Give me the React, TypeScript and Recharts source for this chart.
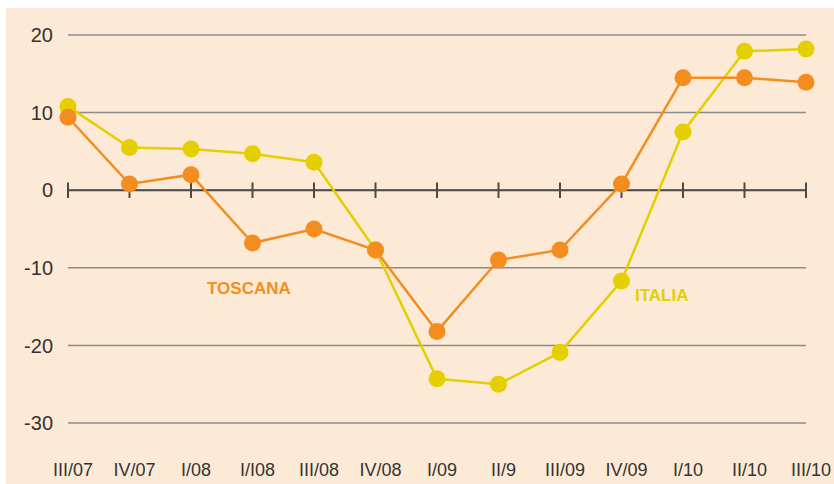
import React from 'react';
import { LineChart, Line, XAxis, YAxis, CartesianGrid, ReferenceLine } from 'recharts';

const quarters = ['III/07', 'IV/07', 'I/08', 'I/I08', 'III/08', 'IV/08', 'I/09', 'II/9', 'III/09', 'IV/09', 'I/10', 'II/10', 'III/10'];
const toscana = [9.4, 0.8, 2.0, -6.8, -5.0, -7.7, -18.2, -9.0, -7.7, 0.8, 14.5, 14.5, 13.9];
const italia = [10.8, 5.5, 5.3, 4.7, 3.6, -7.7, -24.3, -25.0, -20.9, -11.7, 7.5, 17.9, 18.2];
const yTicks = [-30, -20, -10, 0, 10, 20];

const ORANGE = '#F38D20';
const YELLOW = '#E5CF00';
const BG = '#FDEAD6';
const FONT = '"Liberation Sans", Arial, sans-serif';

const data = quarters.map((q, i) => ({ q, toscana: toscana[i], italia: italia[i] }));

const XTick = (props: any) => {
  const { x, y, payload } = props;
  return (
    <text x={x + 5} y={y + 45} textAnchor="middle" fontSize={18} fontFamily={FONT} fill="#333">
      {payload.value}
    </text>
  );
};

export default function App() {
  return (
    <div style={{ position: 'absolute', left: 6, top: 8, width: 828, height: 476, background: BG }}>
      <LineChart width={828} height={476} data={data} margin={{ top: 27, right: 28, bottom: 0, left: 0 }}>
        <CartesianGrid vertical={false} stroke="#8c8c8c" strokeWidth={1.5} />
        <XAxis dataKey="q" axisLine={false} tickLine={false} height={61} tick={<XTick />} interval={0} />
        <YAxis
          domain={[-30, 20]}
          ticks={yTicks}
          axisLine={false}
          tickLine={false}
          width={62}
          tickMargin={9}
          tick={{ fontSize: 20, fontFamily: FONT, fill: '#333' }}
        />
        <ReferenceLine y={0} stroke="#4a4a4a" strokeWidth={2} />
        {quarters.map((q) => (
          <ReferenceLine key={q} segment={[{ x: q, y: -1 }, { x: q, y: 1 }]} stroke="#4a4a4a" strokeWidth={2} />
        ))}
        <Line dataKey="italia" stroke={YELLOW} strokeWidth={2.5} dot={{ r: 8.5, fill: YELLOW, stroke: 'none' }} isAnimationActive={false} />
        <Line dataKey="toscana" stroke={ORANGE} strokeWidth={2.5} dot={{ r: 8.5, fill: ORANGE, stroke: 'none' }} isAnimationActive={false} />
      </LineChart>
      <div style={{ position: 'absolute', left: 201, top: 271, fontFamily: FONT, fontWeight: 'bold', fontSize: 17, color: ORANGE }}>TOSCANA</div>
      <div style={{ position: 'absolute', left: 629, top: 278, fontFamily: FONT, fontWeight: 'bold', fontSize: 17, color: YELLOW }}>ITALIA</div>
    </div>
  );
}
